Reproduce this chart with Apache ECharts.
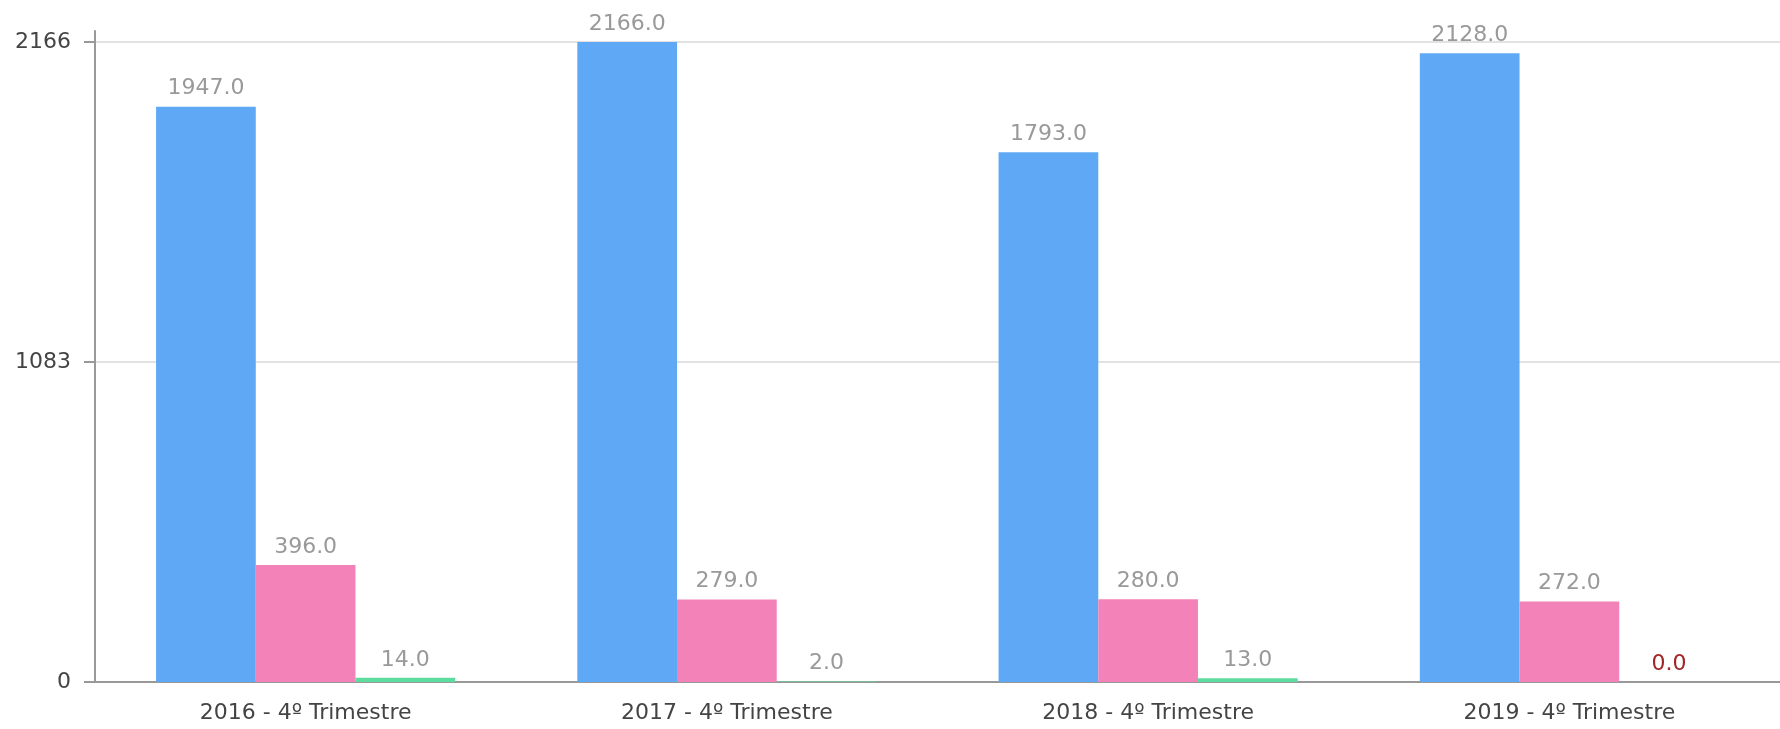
<!DOCTYPE html>
<html>
<head>
<meta charset="utf-8">
<script src="https://cdn.jsdelivr.net/npm/echarts@6/dist/echarts.min.js"></script>
<style>
  html, body { margin: 0; padding: 0; background: #fff; }
  #chart { width: 1780px; height: 729px; }
</style>
</head>
<body>
<div id="chart"></div>
<script>
// categorias e valores
var categorias = ['2016 - 4º Trimestre', '2017 - 4º Trimestre', '2018 - 4º Trimestre', '2019 - 4º Trimestre'];
var serieAzul = [1947, 2166, 1793, 2128];
var serieRosa = [396, 279, 280, 272];
var serieVerde = [14, 2, 13, 0];
var ticksY = [0, 1083, 2166];

var fonte = 'DejaVu Sans';

function rotulo() {
    return {
        show: true,
        position: 'top',
        distance: 7,
        color: '#999',
        fontSize: 22,
        fontFamily: fonte,
        formatter: function (p) { return Number(p.value).toFixed(1); }
    };
}

// o valor zero aparece em vermelho escuro
var dadosVerde = serieVerde.map(function (v) {
    if (v === 0) {
        return { value: v, label: { color: '#a32626' } };
    }
    return v;
});

var chart = echarts.init(document.getElementById('chart'));
var option = {
    animation: false,
    grid: { left: 95, right: 0, top: 31, bottom: 47, containLabel: false },
    xAxis: {
        type: 'category',
        data: categorias,
        axisLine: { lineStyle: { color: '#999', width: 2 } },
        axisTick: { show: false },
        axisLabel: { color: '#444', fontSize: 22, fontFamily: fonte, margin: 20 }
    },
    yAxis: {
        type: 'value',
        min: 0,
        max: 2203,
        interval: 1083,
        axisLine: { show: true, lineStyle: { color: '#999', width: 2 } },
        axisTick: { show: true, length: 11, customValues: ticksY, lineStyle: { color: '#999', width: 2 } },
        axisLabel: {
            color: '#444', fontSize: 22, fontFamily: fonte, margin: 24, customValues: ticksY,
            formatter: function (v) { return String(v); }
        },
        splitLine: {
            show: true,
            lineStyle: { color: '#e2e2e2', width: 2 }
        }
    },
    series: [
        {
            name: 'Série 1', type: 'bar', data: serieAzul,
            barGap: 0, barCategoryGap: '29%',
            itemStyle: { color: '#5fa8f5' }, label: rotulo()
        },
        {
            name: 'Série 2', type: 'bar', data: serieRosa,
            itemStyle: { color: '#f282b8' }, label: rotulo()
        },
        {
            name: 'Série 3', type: 'bar', data: dadosVerde,
            itemStyle: { color: '#5ddc9f' }, label: rotulo()
        }
    ]
};
chart.setOption(option);
</script>
</body>
</html>
